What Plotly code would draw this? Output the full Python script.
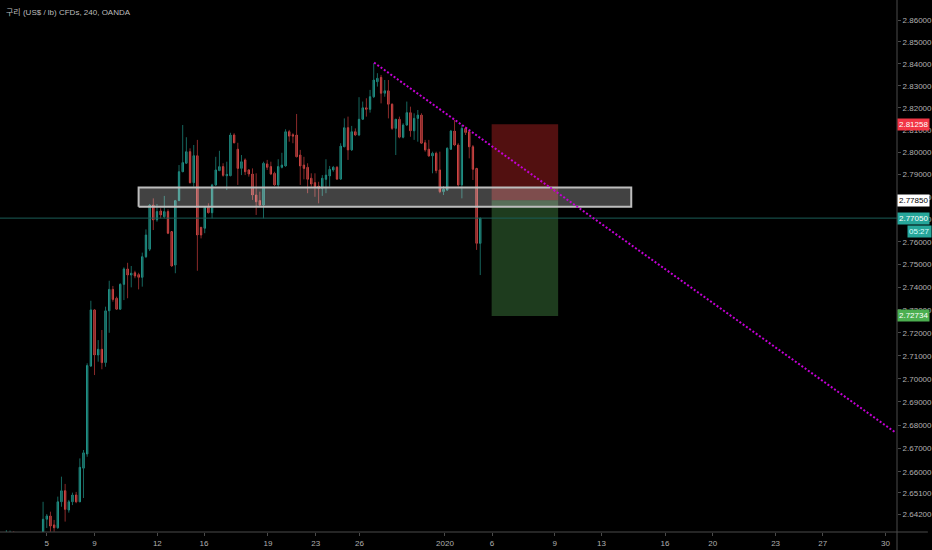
import numpy as np
import plotly.graph_objects as go

title = "구리 (US$ / lb) CFDs, 240, OANDA"

# candle index (4h bars), OHLC
idx = [-9, -8, -7] + list(range(1, 121))
opens = [2.6320, 2.6330, 2.6338,
         2.6345, 2.6398, 2.6412, 2.6374, 2.6362, 2.6472, 2.6519, 2.6437, 2.6472, 2.6501,
         2.6472, 2.6615, 2.6676, 2.7055, 2.7300, 2.7103, 2.7128, 2.7070, 2.7296, 2.7390,
         2.7351, 2.7303, 2.7412, 2.7480, 2.7453, 2.7463, 2.7455, 2.7443, 2.7534, 2.7567,
         2.7763, 2.7697, 2.7737, 2.7711, 2.7734, 2.7645, 2.7497, 2.7783, 2.7912, 2.7950,
         2.8002, 2.7863, 2.7984, 2.7664, 2.7660, 2.7753, 2.7729, 2.7853, 2.7917, 2.7935,
         2.7894, 2.7894, 2.8077, 2.8013, 2.7927, 2.7965, 2.7920, 2.7902, 2.7808, 2.7783,
         2.7763, 2.7947, 2.7935, 2.7905, 2.7853, 2.7932, 2.7938, 2.8092, 2.8078, 2.8077,
         2.7987, 2.7942, 2.7932, 2.7883, 2.7863, 2.7848, 2.7838, 2.7878, 2.7893, 2.7920,
         2.7932, 2.7879, 2.8024, 2.8110, 2.8010, 2.8092, 2.8077, 2.8148, 2.8200, 2.8193,
         2.8250, 2.8318, 2.8338, 2.8266, 2.8277, 2.8216, 2.8107, 2.8148, 2.8067, 2.8122,
         2.8178, 2.8096, 2.8152, 2.8167, 2.8042, 2.8013, 2.7983, 2.7995, 2.7920, 2.7823,
         2.7830, 2.8013, 2.8095, 2.8032, 2.7853, 2.8107, 2.8092, 2.8024, 2.7927, 2.7593]
highs = [2.6352, 2.6350, 2.6347,
         2.6472, 2.6420, 2.6430, 2.6395, 2.6494, 2.6579, 2.6548, 2.6480, 2.6511, 2.6514,
         2.6657, 2.6693, 2.7067, 2.7340, 2.7304, 2.7168, 2.7212, 2.7314, 2.7428, 2.7405,
         2.7358, 2.7417, 2.7487, 2.7507, 2.7493, 2.7472, 2.7463, 2.7552, 2.7655, 2.7768,
         2.7793, 2.7768, 2.7749, 2.7804, 2.7744, 2.7645, 2.7786, 2.7942, 2.8122, 2.8067,
         2.8017, 2.8032, 2.8055, 2.7666, 2.7759, 2.7771, 2.7858, 2.7979, 2.8006, 2.7950,
         2.7957, 2.8087, 2.8085, 2.8042, 2.7987, 2.7972, 2.7923, 2.7927, 2.7905, 2.7823,
         2.7957, 2.7965, 2.7957, 2.7912, 2.7968, 2.7997, 2.8103, 2.8100, 2.8085, 2.8172,
         2.8010, 2.7979, 2.7950, 2.7905, 2.7905, 2.7867, 2.7897, 2.7968, 2.7938, 2.7938,
         2.7938, 2.8040, 2.8152, 2.8160, 2.8118, 2.8107, 2.8248, 2.8228, 2.8243, 2.8281,
         2.8402, 2.8357, 2.8349, 2.8326, 2.8326, 2.8220, 2.8149, 2.8160, 2.8130, 2.8228,
         2.8205, 2.8175, 2.8190, 2.8175, 2.8055, 2.8055, 2.8002, 2.8002, 2.8002, 2.7848,
         2.8022, 2.8100, 2.8145, 2.8040, 2.8122, 2.8115, 2.8100, 2.8032, 2.7927, 2.7706]
lows = [2.6290, 2.6300, 2.6300,
        2.6327, 2.6361, 2.6345, 2.6345, 2.6357, 2.6451, 2.6388, 2.6426, 2.6458, 2.6466,
        2.6471, 2.6488, 2.6664, 2.7051, 2.7016, 2.7074, 2.7041, 2.7052, 2.7200, 2.7336,
        2.7300, 2.7300, 2.7343, 2.7351, 2.7399, 2.7439, 2.7390, 2.7402, 2.7528, 2.7559,
        2.7652, 2.7689, 2.7704, 2.7704, 2.7634, 2.7490, 2.7461, 2.7781, 2.7911, 2.7947,
        2.7860, 2.7845, 2.7472, 2.7615, 2.7638, 2.7726, 2.7704, 2.7848, 2.7915, 2.7890,
        2.7830, 2.7893, 2.8040, 2.7853, 2.7897, 2.7897, 2.7890, 2.7786, 2.7719, 2.7756,
        2.7704, 2.7920, 2.7897, 2.7848, 2.7838, 2.7927, 2.7935, 2.8047, 2.8040, 2.7978,
        2.7853, 2.7878, 2.7816, 2.7845, 2.7800, 2.7771, 2.7804, 2.7816, 2.7845, 2.7912,
        2.7875, 2.7875, 2.8023, 2.7965, 2.8005, 2.8072, 2.8072, 2.8145, 2.8160, 2.8178,
        2.8244, 2.8296, 2.8220, 2.8250, 2.8152, 2.8100, 2.7987, 2.8062, 2.8062, 2.8118,
        2.8069, 2.8055, 2.8047, 2.8037, 2.8002, 2.7979, 2.7905, 2.7905, 2.7816, 2.7808,
        2.7827, 2.8010, 2.8027, 2.7845, 2.7793, 2.8077, 2.7972, 2.7875, 2.7564, 2.7453]
closes = [2.6330, 2.6338, 2.6315,
          2.6398, 2.6412, 2.6369, 2.6362, 2.6472, 2.6519, 2.6440, 2.6472, 2.6501, 2.6472,
          2.6619, 2.6681, 2.7057, 2.7300, 2.7103, 2.7128, 2.7070, 2.7296, 2.7390, 2.7346,
          2.7303, 2.7412, 2.7480, 2.7453, 2.7461, 2.7449, 2.7443, 2.7534, 2.7630, 2.7763,
          2.7697, 2.7734, 2.7719, 2.7734, 2.7638, 2.7493, 2.7783, 2.7912, 2.7953, 2.8002,
          2.7863, 2.7984, 2.7630, 2.7630, 2.7753, 2.7729, 2.7853, 2.7920, 2.7935, 2.7896,
          2.7900, 2.8077, 2.8042, 2.7927, 2.7957, 2.7912, 2.7902, 2.7808, 2.7778, 2.7763,
          2.7950, 2.7932, 2.7902, 2.7853, 2.7935, 2.7942, 2.8092, 2.8072, 2.8072, 2.7979,
          2.7938, 2.7927, 2.7878, 2.7857, 2.7842, 2.7838, 2.7883, 2.7897, 2.7923, 2.7932,
          2.7879, 2.8027, 2.8110, 2.8010, 2.8092, 2.8077, 2.8148, 2.8200, 2.8193, 2.8250,
          2.8326, 2.8334, 2.8266, 2.8277, 2.8216, 2.8107, 2.8148, 2.8067, 2.8122, 2.8178,
          2.8096, 2.8152, 2.8167, 2.8040, 2.8010, 2.7983, 2.7995, 2.7917, 2.7823, 2.7834,
          2.8017, 2.8095, 2.8032, 2.7853, 2.8107, 2.8088, 2.8024, 2.7923, 2.7593, 2.7705]

# x axis day labels (position in bar index)
day_pos = [2.0, 15.0, 32.1, 44.8, 62.2, 75.2, 87.1, 110.4, 123.2, 140.3, 153.0,
           170.3, 183.3, 200.4, 213.2, 230.3]
day_txt = ["5", "9", "12", "16", "19", "23", "26", "2020", "6", "9", "13",
           "16", "20", "23", "27", "30"]

price_ticks = [2.642, 2.651, 2.66, 2.67, 2.68, 2.69, 2.70, 2.71, 2.72, 2.73, 2.74,
               2.75, 2.76, 2.77, 2.78, 2.79, 2.80, 2.81, 2.82, 2.83, 2.84, 2.85, 2.86]

x_range = [-10.73, 233.44]
y_range = [2.6344, 2.8692]

# drawings
zone_x = [27.0, 161.1]
zone_y = [2.7756, 2.7841]
pos_x = [123.1, 141.2]
entry = 2.7785
stop = 2.81258
target = 2.72734
trend_x = [91.1, 233.2]
trend_y = [2.8405, 2.6766]
last = 2.7705
countdown = "05:27"

UP = "#26a69a"
DN = "#ef5350"
UP_WICK = "#16665e"
DN_WICK = "#8a2a2a"

fig = go.Figure()

# wicks
wx_up, wy_up, wx_dn, wy_dn = [], [], [], []
for i, o, h, l, c in zip(idx, opens, highs, lows, closes):
    if c >= o:
        wx_up += [i, i, None]
        wy_up += [l, h, None]
    else:
        wx_dn += [i, i, None]
        wy_dn += [l, h, None]
fig.add_trace(go.Scatter(x=wx_up, y=wy_up, mode="lines", line=dict(color=UP_WICK, width=1),
                         hoverinfo="skip", showlegend=False))
fig.add_trace(go.Scatter(x=wx_dn, y=wy_dn, mode="lines", line=dict(color=DN_WICK, width=1),
                         hoverinfo="skip", showlegend=False))

# bodies
o = np.array(opens)
c = np.array(closes)
fig.add_trace(go.Candlestick(
    x=idx, open=o, close=c, high=np.maximum(o, c), low=np.minimum(o, c),
    increasing=dict(line=dict(color=UP, width=1), fillcolor=UP),
    decreasing=dict(line=dict(color=DN, width=1), fillcolor=DN),
    whiskerwidth=0, hoverinfo="skip", showlegend=False))

def rect(xs, ys, fill, line_color=None, lw=0):
    return go.Scatter(x=[xs[0], xs[1], xs[1], xs[0], xs[0]],
                      y=[ys[0], ys[0], ys[1], ys[1], ys[0]],
                      mode="lines", fill="toself", fillcolor=fill,
                      line=dict(color=line_color or "rgba(0,0,0,0)", width=lw),
                      hoverinfo="skip", showlegend=False)

# short position: stop (red) and target (green)
fig.add_trace(rect(pos_x, [entry, stop], "rgba(150,30,30,0.55)"))
fig.add_trace(rect(pos_x, [target, entry], "rgba(60,120,60,0.5)"))

# support zone
fig.add_trace(rect(zone_x, zone_y, "rgba(255,255,255,0.26)", "#bdbdbd", 2))

# last price line
fig.add_trace(go.Scatter(x=x_range, y=[last, last], mode="lines",
                         line=dict(color="#1b5e58", width=1),
                         hoverinfo="skip", showlegend=False))

# trend line
fig.add_trace(go.Scatter(x=trend_x, y=trend_y, mode="lines",
                         line=dict(color="#c400d4", width=2, dash="2px,2px"),
                         hoverinfo="skip", showlegend=False))

# price tags on the right axis
tags = [(stop, "#f23645", "white"), (entry, "white", "black"),
        (last, UP, "white"), (target, "#4caf50", "white")]
ann = []
for val, bg, fg in tags:
    ann.append(dict(x=1, xref="paper", y=np.log10(val), yref="y", xanchor="left",
                    text=f"{val:.5f}", showarrow=False, bgcolor=bg,
                    font=dict(size=8, color=fg, family="Liberation Sans"), borderpad=1))
ann.append(dict(x=1, xref="paper", y=np.log10(last), yref="y", xanchor="left", xshift=10,
                yshift=-13, text=countdown, showarrow=False, bgcolor=UP,
                font=dict(size=8, color="#dff", family="Liberation Sans"), borderpad=1))
ann.append(dict(x=0.004, xref="paper", y=0.977, yref="paper", xanchor="left",
                yanchor="middle", text=title, showarrow=False,
                font=dict(size=8, color="#bdbdbd",
                          family="Liberation Sans, Noto Sans CJK KR")))

# axis frame lines (extend into the margins like the original)
shapes = [
    dict(type="line", xref="paper", yref="paper", x0=0, x1=932 / 901, y0=0, y1=0,
         line=dict(color="#4a4a4a", width=1)),
    dict(type="line", xref="paper", yref="paper", x0=1, x1=1, y0=-18 / 532, y1=1,
         line=dict(color="#4a4a4a", width=1)),
]

fig.update_layout(
    width=932, height=550,
    margin=dict(l=0, r=31, t=0, b=18),
    paper_bgcolor="#000000", plot_bgcolor="#000000",
    font=dict(family="Liberation Sans", size=8, color="#b0b0b0"),
    boxgap=0.5,
    annotations=ann, shapes=shapes,
    xaxis=dict(range=x_range, rangeslider=dict(visible=False), showgrid=False,
               zeroline=False, showline=False, tickvals=day_pos, ticktext=day_txt,
               ticks="outside", ticklen=3, tickcolor="#4a4a4a",
               tickfont=dict(size=8, color="#b0b0b0")),
    yaxis=dict(type="log", range=[np.log10(y_range[0]), np.log10(y_range[1])],
               side="right", showgrid=False, zeroline=False, showline=False,
               tickvals=price_ticks, ticktext=[f"{v:.5f}" for v in price_ticks],
               ticks="outside", ticklen=3, tickcolor="#4a4a4a",
               tickfont=dict(size=8, color="#b0b0b0")),
)

fig.write_html("out.html", config={"displayModeBar": False},
               post_script="document.body.style.margin='0px';"
               "document.body.style.background='#000';")
